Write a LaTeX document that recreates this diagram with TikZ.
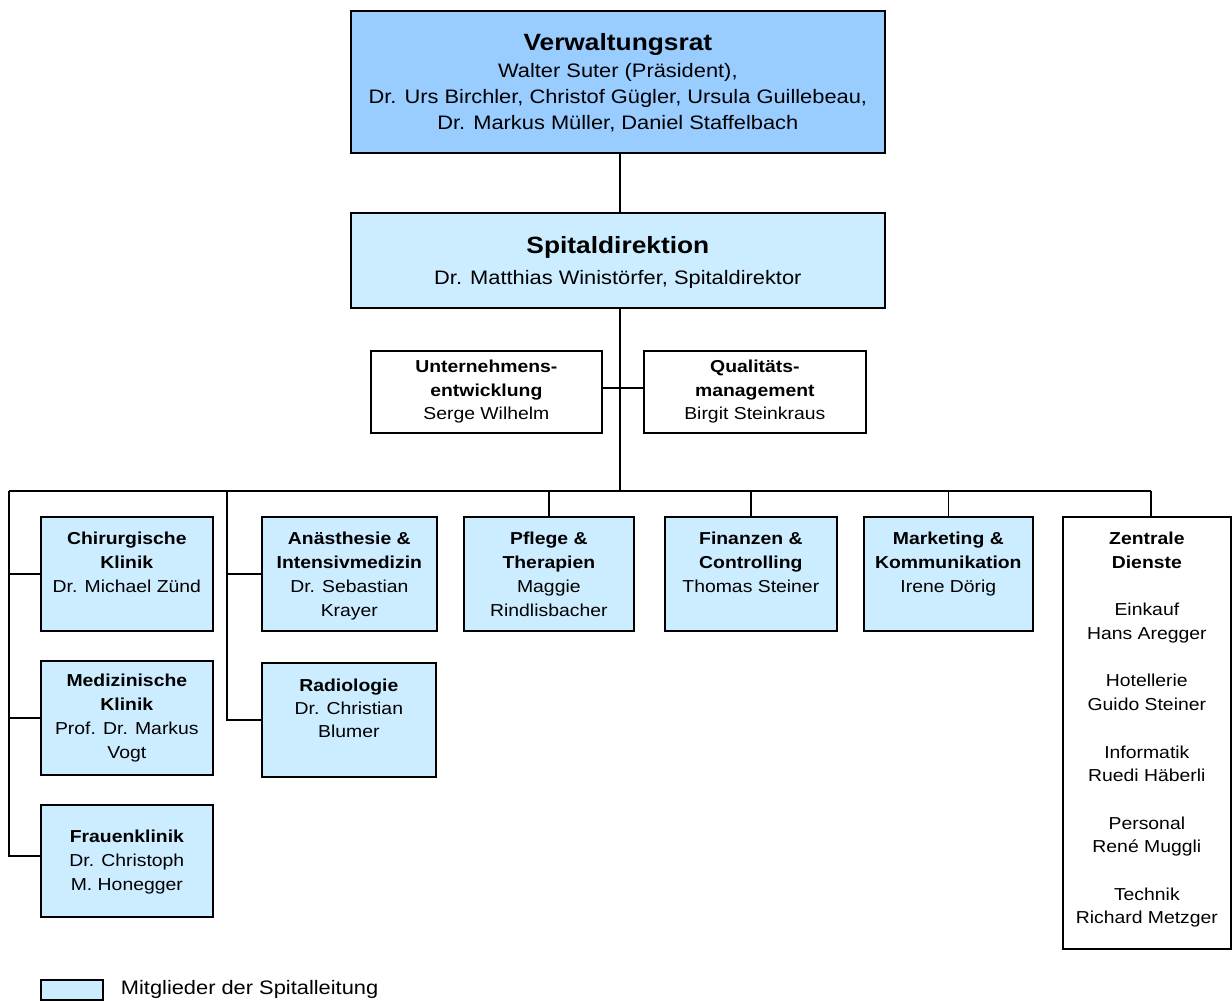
\documentclass[tikz,border=0pt]{standalone}
\usepackage{fontspec}
\setmainfont{Liberation Sans}[FakeStretch=1.12]
\definecolor{vrblue}{HTML}{99CCFF}
\definecolor{leadblue}{HTML}{CCECFF}
\begin{document}
\begin{tikzpicture}[x=1pt,y=-1pt,
  frame/.style={draw=black, line width=1.7pt, inner sep=0pt, anchor=north west},
  lead/.style={frame, fill=leadblue},
  plain/.style={frame, fill=white},
  txt/.style={align=center, inner sep=0pt, anchor=north, font=\fontsize{17.3}{24}\selectfont},
  conn/.style={line width=1.6pt}]
\useasboundingbox[fill=white] (0,0) rectangle (1232,1001);

% top boxes
\node[frame, fill=vrblue, minimum width=534, minimum height=142] (vr) at (350,10) {};
\node[txt, font=\fontsize{19.5}{26}\selectfont] (vrT) at ([yshift=-23.5pt]vr.north)
  {{\fontsize{23.5}{26}\selectfont\bfseries Verwaltungsrat}\\[1pt]
   Walter Suter (Präsident),\\
   Dr. Urs Birchler, Christof Gügler, Ursula Guillebeau,\\
   Dr. Markus Müller, Daniel Staffelbach};

\node[lead, minimum width=534, minimum height=95] (sd) at (350,212) {};
\node[txt, font=\fontsize{19.5}{26}\selectfont] (sdT) at ([yshift=-24.5pt]sd.north)
  {{\fontsize{23.5}{26}\selectfont\bfseries Spitaldirektion}\\[5pt]
   Dr. Matthias Winistörfer, Spitaldirektor};

% staff boxes
\node[plain, minimum width=231, minimum height=82] (ue) at (370,350) {};
\node[txt, font=\fontsize{17.3}{23.5}\selectfont] (ueT) at ([yshift=-10pt]ue.north)
  {\textbf{Unternehmens-}\\\textbf{entwicklung}\\Serge Wilhelm};
\node[plain, minimum width=222, minimum height=82] (qm) at (643,350) {};
\node[txt, font=\fontsize{17.3}{23.5}\selectfont] (qmT) at ([yshift=-10pt]qm.north)
  {\textbf{Qualitäts-}\\\textbf{management}\\Birgit Steinkraus};

% column 1
\node[lead, minimum width=172, minimum height=114] (chir) at (40,516) {};
\node[txt] (chirT) at ([yshift=-16pt]chir.north)
  {\textbf{Chirurgische}\\\textbf{Klinik}\\Dr. Michael Zünd};
\node[lead, minimum width=172, minimum height=114] (med) at (40,660) {};
\node[txt] (medT) at ([yshift=-14pt]med.north)
  {\textbf{Medizinische}\\\textbf{Klinik}\\Prof. Dr. Markus\\Vogt};
\node[lead, minimum width=172, minimum height=112] (frau) at (40,804) {};
\node[txt] (frauT) at ([yshift=-26pt]frau.north)
  {\textbf{Frauenklinik}\\Dr. Christoph\\M. Honegger};

% column 2
\node[lead, minimum width=175, minimum height=114] (anae) at (261,516) {};
\node[txt] (anaeT) at ([yshift=-16pt]anae.north)
  {\textbf{Anästhesie \&}\\\textbf{Intensivmedizin}\\Dr. Sebastian\\Krayer};
\node[lead, minimum width=174, minimum height=114] (rad) at (261,662) {};
\node[txt, font=\fontsize{17.3}{23}\selectfont] (radT) at ([yshift=-16.5pt]rad.north)
  {\textbf{Radiologie}\\Dr. Christian\\Blumer};

% other departments
\node[lead, minimum width=170, minimum height=114] (pfl) at (463,516) {};
\node[txt] (pflT) at ([yshift=-16pt]pfl.north)
  {\textbf{Pflege \&}\\\textbf{Therapien}\\Maggie\\Rindlisbacher};
\node[lead, minimum width=172, minimum height=114] (fin) at (664,516) {};
\node[txt] (finT) at ([yshift=-16pt]fin.north)
  {\textbf{Finanzen \&}\\\textbf{Controlling}\\Thomas Steiner};
\node[lead, minimum width=169, minimum height=114] (mk) at (863,516) {};
\node[txt] (mkT) at ([yshift=-16pt]mk.north)
  {\textbf{Marketing \&}\\\textbf{Kommunikation}\\Irene Dörig};
\node[plain, minimum width=168, minimum height=432] (zd) at (1062,516) {};
\node[txt, font=\fontsize{17.3}{23.7}\selectfont] (zdT) at ([yshift=-16pt]zd.north)
  {\textbf{Zentrale}\\\textbf{Dienste}\\[23.7pt]
   Einkauf\\Hans Aregger\\[23.7pt]
   Hotellerie\\Guido Steiner\\[23.7pt]
   Informatik\\Ruedi Häberli\\[23.7pt]
   Personal\\René Muggli\\[23.7pt]
   Technik\\Richard Metzger};

% legend
\node[lead, minimum width=62, minimum height=20] (leg) at (40,979) {};
\node[anchor=west, inner sep=0pt, font=\fontsize{19.5}{24}\selectfont] (legT) at ([xshift=17pt]leg.east)
  {Mitglieder der Spitalleitung};

% connectors
\coordinate (spine) at (620,0);
\coordinate (busL) at (9,491);
\coordinate (busR) at (1151,491);
\coordinate (col2) at (227,491);
\draw[conn] (vr.south -| spine) -- (sd.north -| spine);
\draw[conn] (sd.south -| spine) -- (spine |- busL);
\draw[conn] ([yshift=4pt]ue.east) -- ([yshift=4pt]qm.west);
\draw[conn] (busL) -- (busR);
\draw[conn] (busL) |- ([yshift=5pt]frau.west);
\draw[conn] (busL |- chir.west) -- (chir.west);
\draw[conn] (busL |- med.west) -- (med.west);
\draw[conn] (col2) |- (rad.west);
\draw[conn] (col2 |- anae.west) -- (anae.west);
\draw[conn] (pfl.north |- busL) -- (pfl.north);
\draw[conn] (fin.north |- busL) -- (fin.north);
\draw[conn] (mk.north |- busL) -- (mk.north);
\draw[conn] (busR) -- (busR |- zd.north);
\end{tikzpicture}
\end{document}
